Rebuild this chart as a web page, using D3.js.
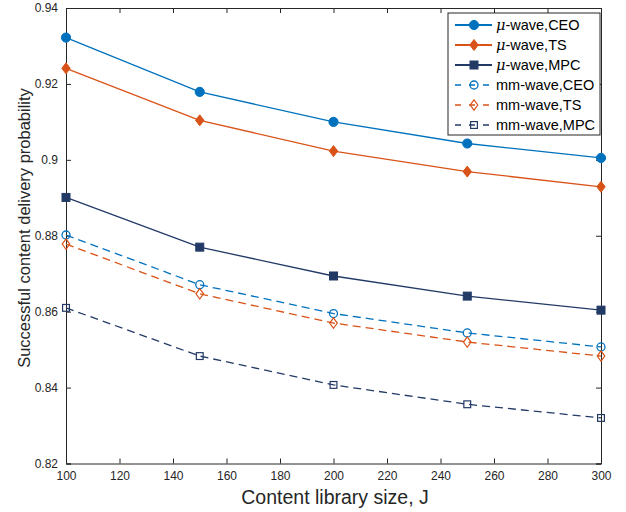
<!DOCTYPE html>
<html><head><meta charset="utf-8">
<script src="https://cdn.jsdelivr.net/npm/d3@7"></script>
<style>body{margin:0;background:#fff}svg{display:block}text{font-family:"Liberation Sans",Arial,sans-serif}</style>
</head><body><div id="c"></div>
<script>
const xValues = [100, 150, 200, 250, 300];
const muCEO = [0.9322, 0.9179, 0.9100, 0.9043, 0.9005];
const muTS  = [0.9241, 0.9104, 0.9023, 0.8969, 0.8929];
const muMPC = [0.8901, 0.8770, 0.8694, 0.8641, 0.8604];
const mmCEO = [0.8802, 0.8671, 0.8595, 0.8544, 0.8507];
const mmTS  = [0.8778, 0.8647, 0.8570, 0.8520, 0.8483];
const mmMPC = [0.8610, 0.8483, 0.8407, 0.8356, 0.8320];
const xTicks = [100,120,140,160,180,200,220,240,260,280,300];
const yTicks = [0.82,0.84,0.86,0.88,0.9,0.92,0.94];
const yTickLabels = ["0.82","0.84","0.86","0.88","0.9","0.92","0.94"];
const seriesNames = ["\u03bc-wave,CEO","\u03bc-wave,TS","\u03bc-wave,MPC","mm-wave,CEO","mm-wave,TS","mm-wave,MPC"];

const W=626,H=512;
const L=66,R=601,T=8,B=463.5;
const x=d3.scaleLinear().domain([100,300]).range([L,R]);
const y=d3.scaleLinear().domain([0.82,0.94]).range([B,T]);
const svg=d3.select("#c").append("svg").attr("width",W).attr("height",H);

const blue="#0072BD",orange="#D95319",navy="#233A66";
const series=[
 {name:seriesNames[0],v:muCEO,c:blue,dash:null,m:"circle",fill:true},
 {name:seriesNames[1],v:muTS,c:orange,dash:null,m:"diamond",fill:true},
 {name:seriesNames[2],v:muMPC,c:navy,dash:null,m:"square",fill:true},
 {name:seriesNames[3],v:mmCEO,c:blue,dash:"8,5",m:"circle",fill:false},
 {name:seriesNames[4],v:mmTS,c:orange,dash:"8,5",m:"diamond",fill:false},
 {name:seriesNames[5],v:mmMPC,c:navy,dash:"8,5",m:"square",fill:false}
];

const tc="#262626";
const gx=svg.append("g").attr("transform",`translate(0,${B})`)
 .call(d3.axisBottom(x).tickValues(xTicks).tickSize(-5).tickPadding(8).tickFormat(d3.format("d")));
const gxt=svg.append("g").attr("transform",`translate(0,${T})`)
 .call(d3.axisTop(x).tickValues(xTicks).tickSize(-5).tickFormat(""));
const gy=svg.append("g").attr("transform",`translate(${L},0)`)
 .call(d3.axisLeft(y).tickValues(yTicks).tickSize(-5).tickPadding(8).tickFormat((d,i)=>yTickLabels[i]));
const gyr=svg.append("g").attr("transform",`translate(${R},0)`)
 .call(d3.axisRight(y).tickValues(yTicks).tickSize(-5).tickFormat(""));
[gx,gxt,gy,gyr].forEach(g=>{
 g.selectAll("path").attr("stroke",tc).attr("stroke-width",1);
 g.selectAll("line").attr("stroke",tc).attr("stroke-width",1);
 g.selectAll("text").attr("fill",tc).attr("font-size",12).attr("font-family",'"Liberation Sans",Arial,sans-serif');
});

function marker(g,type,cx,cy,c,fill){
 if(type==="circle"){
  const r=fill?4.6:4;
  g.append("circle").attr("cx",cx).attr("cy",cy).attr("r",r)
   .attr("fill",fill?c:"none").attr("stroke",c).attr("stroke-width",fill?1:1.3);
 } else if(type==="diamond"){
  const a=fill?5.5:5.2, b=fill?4.2:3.8;
  g.append("path").attr("d",`M${cx},${cy-a}L${cx+b},${cy}L${cx},${cy+a}L${cx-b},${cy}Z`)
   .attr("fill",fill?c:"none").attr("stroke",c).attr("stroke-width",fill?1:1.2);
 } else {
  const s=fill?4:3.4;
  g.append("rect").attr("x",cx-s).attr("y",cy-s).attr("width",2*s).attr("height",2*s)
   .attr("fill",fill?c:"none").attr("stroke",c).attr("stroke-width",fill?1:1.2);
 }
}

const line=d3.line().x((d,i)=>x(xValues[i])).y(d=>y(d));
series.forEach(s=>{
 const g=svg.append("g");
 g.append("path").attr("d",line(s.v)).attr("fill","none").attr("stroke",s.c)
  .attr("stroke-width",1.3).attr("stroke-dasharray",s.dash);
 s.v.forEach((d,i)=>marker(g,s.m,x(xValues[i]),y(d),s.c,s.fill));
});

// legend
const lg=svg.append("g");
lg.append("rect").attr("x",448).attr("y",13).attr("width",152).attr("height",122)
 .attr("fill","#fff").attr("stroke","#262626").attr("stroke-width",1);
series.forEach((s,i)=>{
 const yy=25+i*20;
 lg.append("line").attr("x1",455).attr("x2",492).attr("y1",yy).attr("y2",yy)
  .attr("stroke",s.c).attr("stroke-width",s.dash?1.3:2).attr("stroke-dasharray",s.dash?"6,8":null);
 marker(lg,s.m,474,yy,s.c,s.fill);
 const t=lg.append("text").attr("x",496).attr("y",yy+5).attr("font-size",14.5).attr("fill","#000");
 if(s.name.startsWith("\u03bc")){
  t.append("tspan").attr("font-style","italic").attr("font-family","'DejaVu Serif',serif").text("\u03bc");
  t.append("tspan").text(s.name.slice(1));
 } else t.text(s.name);
});

svg.append("text").attr("x",335).attr("y",504).attr("text-anchor","middle")
 .attr("font-size",19.5).attr("fill",tc).text("Content library size, J");
svg.append("text").attr("transform",`translate(30,228) rotate(-90)`).attr("text-anchor","middle")
 .attr("font-size",16.5).attr("fill",tc).text("Successful content delivery probability");
</script></body></html>
